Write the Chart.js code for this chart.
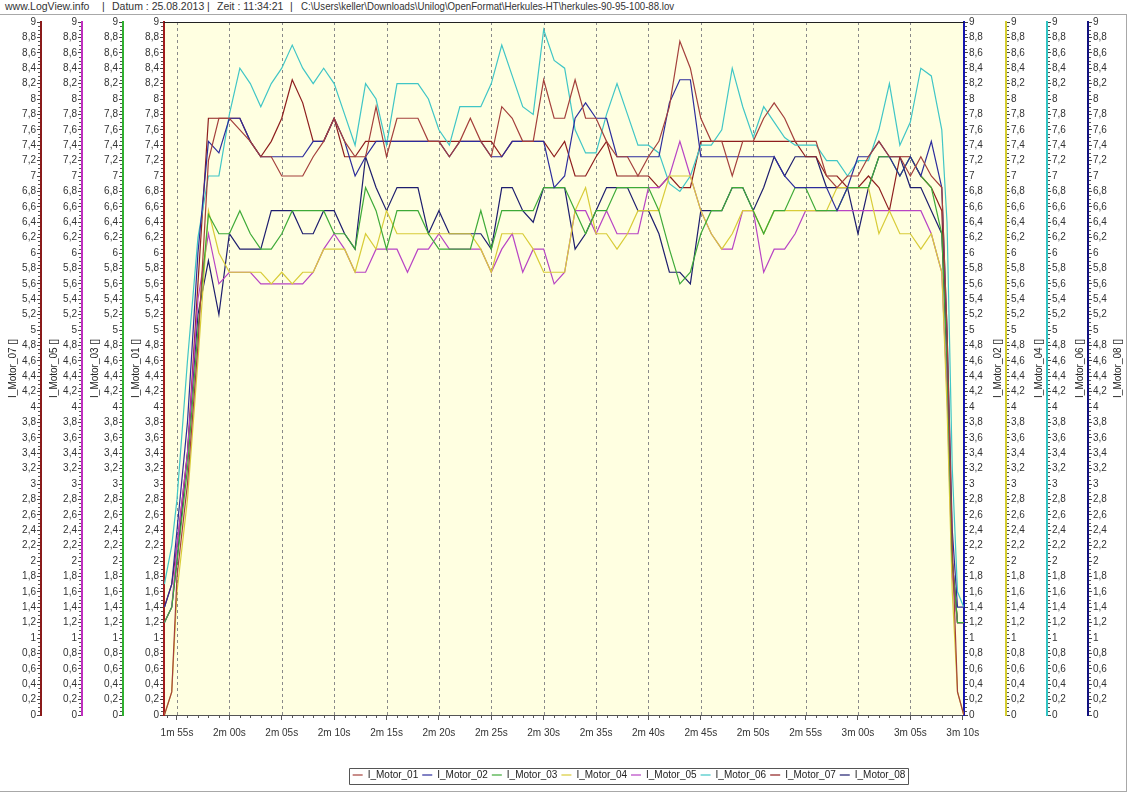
<!DOCTYPE html>
<html>
<head>
<meta charset="utf-8">
<script src="https://cdn.jsdelivr.net/npm/chart.js@4.4.1/dist/chart.umd.min.js"></script>
<style>
    html, body { margin: 0; padding: 0; background: #fff; }
    .head {
        position: absolute; top: 0; height: 14px;
        font: 10.5px "Liberation Sans", Arial, sans-serif; line-height: 13px;
        color: #333; white-space: pre;
    }
    #path { transform: scaleX(0.92); transform-origin: left center; }
    #frame {
        position: absolute; left: 0; top: 14px; width: 1126px; height: 776px;
        border: 1px solid #a8a8a8; border-left: 0;
    }
    #chart { position: absolute; left: 0; top: 0; }
</style>
</head>
<body>
<span class="head" style="left:5px">www.LogView.info</span>
<span class="head" style="left:102px">|</span>
<span class="head" style="left:112px">Datum : 25.08.2013</span>
<span class="head" style="left:207px">|</span>
<span class="head" style="left:217px">Zeit : 11:34:21</span>
<span class="head" style="left:290px">|</span>
<span class="head" id="path" style="left:301px">C:\Users\keller\Downloads\Unilog\OpenFormat\Herkules-HT\herkules-90-95-100-88.lov</span>
<div id="frame"><canvas id="chart" width="1126" height="776"></canvas></div>
<script>
// time in seconds since start of log
const times = [113.8, 114.5,
    115, 116, 117, 118, 119, 120, 121, 122, 123, 124,
    125, 126, 127, 128, 129, 130, 131, 132, 133, 134,
    135, 136, 137, 138, 139, 140, 141, 142, 143, 144,
    145, 146, 147, 148, 149, 150, 151, 152, 153, 154,
    155, 156, 157, 158, 159, 160, 161, 162, 163, 164,
    165, 166, 167, 168, 169, 170, 171, 172, 173, 174,
    175, 176, 177, 178, 179, 180, 181, 182, 183, 184,
    185, 186, 187, 188, 188.5, 189, 189.5, 190.1];

const motor01 = [0, 0.3,
    1.8, 3.0, 4.8, 7.2, 7.75, 7.75, 7.6, 7.45, 7.25, 7.25,
    7.0, 7.0, 7.0, 7.25, 7.45, 7.75, 7.45, 7.25, 7.25, 7.9,
    7.25, 7.75, 7.75, 7.75, 7.45, 7.45, 7.25, 7.45, 7.75, 7.45,
    7.25, 7.9, 7.75, 7.45, 7.45, 8.25, 7.75, 7.75, 8.25, 7.75,
    7.75, 7.45, 7.25, 7.25, 7.0, 7.25, 7.45, 7.9, 8.75, 8.4,
    7.75, 7.45, 7.45, 7.0, 7.45, 7.45, 7.75, 7.95, 7.75, 7.45,
    7.45, 7.45, 7.0, 6.85, 7.0, 7.0, 7.25, 7.45, 7.25, 7.25,
    7.0, 7.25, 7.0, 6.85, 5.0, 2.2, 0.3, 0];
const motor02 = [1.4, 1.7,
    2.4, 3.8, 6.0, 7.45, 7.3, 7.75, 7.75, 7.45, 7.25, 7.25,
    7.25, 7.25, 7.25, 7.45, 7.45, 7.75, 7.45, 7.0, 7.25, 7.45,
    7.45, 7.45, 7.45, 7.45, 7.45, 7.45, 7.25, 7.45, 7.45, 7.45,
    7.25, 7.25, 7.45, 7.45, 7.45, 7.45, 6.85, 7.0, 7.75, 7.95,
    7.75, 7.75, 7.25, 7.25, 7.25, 7.25, 7.25, 7.95, 8.25, 8.25,
    7.25, 7.25, 7.25, 7.25, 7.25, 7.25, 7.25, 7.25, 7.0, 6.85,
    6.85, 6.85, 6.85, 6.55, 6.85, 7.25, 7.25, 7.45, 7.25, 7.0,
    7.25, 7.0, 7.45, 6.85, 5.0, 2.4, 1.4, 1.4];
const motor03 = [1.2, 1.4,
    2.0, 3.2, 5.0, 6.5, 6.25, 6.25, 6.55, 6.25, 6.05, 6.05,
    6.25, 6.55, 6.55, 6.55, 6.55, 6.25, 6.25, 6.05, 6.85, 6.55,
    6.05, 6.55, 6.55, 6.55, 6.25, 6.05, 6.05, 6.05, 6.05, 6.55,
    6.05, 6.55, 6.55, 6.55, 6.55, 6.85, 6.85, 6.85, 6.55, 6.25,
    6.55, 6.55, 6.85, 6.85, 6.85, 6.85, 6.55, 6.05, 5.6, 5.75,
    6.25, 6.55, 6.55, 6.85, 6.85, 6.55, 6.25, 6.55, 6.55, 6.85,
    6.85, 6.55, 6.55, 6.55, 6.85, 6.85, 6.85, 7.25, 7.25, 7.0,
    7.25, 7.0, 6.85, 6.25, 4.6, 2.0, 1.2, 1.2];
const motor04 = [0, 0.3,
    1.6, 2.8, 4.6, 6.55, 6.0, 5.75, 5.75, 5.75, 5.75, 5.6,
    5.75, 5.6, 5.75, 5.75, 6.05, 6.05, 6.05, 5.75, 6.25, 6.05,
    6.55, 6.25, 6.25, 6.25, 6.25, 6.25, 6.25, 6.25, 6.25, 6.05,
    5.75, 6.25, 6.25, 6.25, 6.05, 5.75, 5.75, 5.75, 6.55, 6.85,
    6.25, 6.25, 6.05, 6.25, 6.55, 6.55, 6.55, 7.0, 7.0, 7.0,
    6.55, 6.25, 6.05, 6.25, 6.55, 6.55, 6.25, 6.55, 6.55, 6.55,
    6.55, 6.55, 6.55, 6.85, 6.85, 6.85, 6.85, 6.25, 6.55, 6.25,
    6.25, 6.05, 6.25, 5.75, 4.0, 1.6, 0.3, 0];
const motor05 = [1.2, 1.4,
    2.2, 3.4, 5.4, 6.25, 5.6, 5.75, 5.75, 5.75, 5.6, 5.6,
    5.6, 5.6, 5.6, 5.75, 6.05, 6.25, 6.05, 5.75, 5.75, 6.05,
    6.05, 6.05, 5.75, 6.05, 6.05, 6.25, 6.05, 6.05, 6.05, 6.05,
    5.75, 6.05, 6.25, 5.75, 6.05, 6.05, 5.6, 5.75, 6.55, 6.55,
    6.25, 6.55, 6.25, 6.25, 6.25, 6.85, 6.85, 7.0, 7.45, 7.0,
    6.55, 6.25, 6.05, 6.05, 6.55, 6.55, 5.75, 6.05, 6.05, 6.25,
    6.55, 6.55, 6.55, 6.55, 6.55, 6.55, 6.55, 6.55, 6.55, 6.55,
    6.55, 6.55, 6.25, 5.75, 4.2, 1.8, 1.2, 1.2];
const motor06 = [1.7, 2.2,
    2.8, 4.6, 6.2, 7.0, 7.0, 7.8, 8.4, 8.2, 7.9, 8.2,
    8.4, 8.7, 8.4, 8.2, 8.4, 8.2, 7.8, 7.4, 8.2, 8.0,
    7.4, 8.2, 8.2, 8.2, 8.0, 7.6, 7.4, 7.9, 7.9, 7.9,
    8.2, 8.7, 8.3, 7.9, 7.8, 8.9, 8.5, 8.4, 7.6, 7.3,
    7.3, 7.8, 8.2, 7.8, 7.4, 7.4, 7.3, 6.9, 6.8, 7.0,
    7.4, 7.4, 7.6, 8.4, 7.9, 7.5, 7.9, 7.7, 7.5, 7.4,
    7.4, 7.4, 7.2, 7.2, 7.0, 7.2, 7.2, 7.6, 8.2, 7.4,
    7.7, 8.4, 8.3, 7.6, 6.4, 3.2, 1.6, 1.4];
const motor07 = [1.4, 1.7,
    2.2, 3.4, 5.6, 7.75, 7.75, 7.75, 7.75, 7.45, 7.25, 7.45,
    7.75, 8.25, 7.95, 7.45, 7.45, 7.75, 7.25, 7.25, 7.45, 7.45,
    7.45, 7.45, 7.45, 7.45, 7.45, 7.45, 7.45, 7.45, 7.45, 7.45,
    7.45, 7.25, 7.45, 7.45, 7.45, 7.45, 7.25, 7.45, 7.0, 7.0,
    7.25, 7.45, 7.0, 7.0, 7.0, 7.0, 6.85, 7.0, 6.85, 6.85,
    7.45, 7.45, 7.45, 7.45, 7.45, 7.45, 7.45, 7.45, 7.45, 7.45,
    7.25, 7.25, 7.0, 7.0, 6.85, 6.85, 7.0, 6.85, 6.55, 7.25,
    7.25, 7.0, 6.85, 6.55, 4.8, 2.0, 1.2, 1.2];
const motor08 = [1.2, 1.4,
    2.0, 3.4, 5.2, 5.9, 5.2, 6.25, 6.05, 6.05, 6.05, 6.55,
    6.55, 6.55, 6.25, 6.25, 6.55, 6.55, 6.25, 6.05, 7.25, 6.85,
    6.55, 6.85, 6.85, 6.85, 6.25, 6.55, 6.25, 6.25, 6.25, 6.25,
    6.05, 6.85, 6.85, 6.55, 6.4, 6.85, 6.85, 6.85, 6.05, 6.25,
    6.55, 6.85, 6.85, 6.85, 6.55, 6.55, 6.25, 5.75, 5.75, 5.6,
    6.55, 6.55, 6.55, 6.85, 6.85, 6.55, 6.85, 7.25, 7.0, 7.25,
    7.25, 7.25, 6.85, 6.85, 6.85, 6.25, 6.85, 7.25, 7.25, 7.25,
    6.85, 6.85, 6.55, 6.25, 4.6, 2.0, 1.2, 1.2];

const motorNames = ['I_Motor_01', 'I_Motor_02', 'I_Motor_03', 'I_Motor_04',
    'I_Motor_05', 'I_Motor_06', 'I_Motor_07', 'I_Motor_08'];
const motorValues = [motor01, motor02, motor03, motor04, motor05, motor06, motor07, motor08];
const lineColors = ['#a4403c', '#2c2c9c', '#3eaa38', '#d8cc38', '#b844c4', '#40c6c6', '#8e1e1e', '#1e1e6e'];
const axisColors = ['#a01c1c', '#1414b0', '#30b030', '#d4cc30', '#c030c0', '#30c4c4', '#8a1a1a', '#101080'];

const xTickValues = [115, 120, 125, 130, 135, 140, 145, 150, 155, 160, 165, 170, 175, 180, 185, 190];
const xTickLabels = ['1m 55s', '2m 00s', '2m 05s', '2m 10s', '2m 15s', '2m 20s', '2m 25s', '2m 30s',
    '2m 35s', '2m 40s', '2m 45s', '2m 50s', '2m 55s', '3m 00s', '3m 05s', '3m 10s'];
const yMin = 0, yMax = 9, yStep = 0.2;

const FONT = '"Liberation Sans", Arial, sans-serif';
Chart.defaults.font.family = FONT;
Chart.defaults.font.size = 10;

// left axes are listed outer -> inner, right axes inner -> outer
const leftAxes = [6, 4, 2, 0];
const rightAxes = [1, 3, 5, 7];
const rightWidths = [42, 41, 41, 38];

function axisId(i) {
    return 'm' + (i + 1);
}

function yLabel(v) {
    return String(Math.round(v * 10) / 10).replace('.', ',');
}

function makeYAxis(i, pos, weight, width) {
    return {
        type: 'linear',
        position: pos,
        weight: weight,
        min: yMin,
        max: yMax,
        afterFit: function (s) { s.width = width; },
        ticks: {
            stepSize: yStep,
            autoSkip: false,
            padding: 1,
            color: '#333',
            callback: yLabel
        },
        grid: { drawOnChartArea: false, tickLength: 4, tickColor: '#444' },
        border: { color: axisColors[i], width: 2 }
    };
}

const scales = {
    x: {
        type: 'linear',
        min: 113.76,
        max: 190.12,
        afterFit: function (s) { s.height = 51; },
        afterBuildTicks: function (s) {
            s.ticks = xTickValues.map(v => ({ value: v }));
        },
        ticks: {
            autoSkip: false,
            maxRotation: 0,
            padding: 7,
            color: '#333',
            callback: (v, idx) => xTickLabels[idx]
        },
        grid: { drawOnChartArea: false, tickLength: 5, tickColor: '#555' },
        border: { color: '#555', width: 1 }
    }
};
leftAxes.forEach((i, k) => { scales[axisId(i)] = makeYAxis(i, 'left', 3 - k, 41); });
rightAxes.forEach((i, k) => { scales[axisId(i)] = makeYAxis(i, 'right', k, rightWidths[k]); });

const datasets = motorNames.map((name, i) => ({
    label: name,
    data: times.map((t, k) => ({ x: t, y: motorValues[i][k] })),
    yAxisID: axisId(i),
    borderColor: lineColors[i],
    backgroundColor: lineColors[i],
    borderWidth: 1.2,
    pointRadius: 0,
    tension: 0,
    fill: false
}));

const LEGEND_SHIFT = 66;

// plot background, dashed verticals, minor ticks, axis titles, legend frame
const logviewDecor = {
    id: 'logviewDecor',
    afterLayout(chart) {
        const lg = chart.legend;
        lg.left += LEGEND_SHIFT;
        lg.right += LEGEND_SHIFT;
    },
    beforeDraw(chart) {
        const ctx = chart.ctx;
        const a = chart.chartArea;
        ctx.save();
        ctx.fillStyle = '#ffffe1';
        ctx.fillRect(a.left, a.top, a.width, a.height);
        const xs = chart.scales.x;
        ctx.strokeStyle = '#8a8a8a';
        ctx.lineWidth = 1;
        ctx.setLineDash([3, 3]);
        for (const v of xTickValues) {
            const px = Math.round(xs.getPixelForValue(v)) + 0.5;
            ctx.beginPath();
            ctx.moveTo(px, a.top);
            ctx.lineTo(px, a.bottom);
            ctx.stroke();
        }
        ctx.restore();
    },
    afterDraw(chart) {
        const ctx = chart.ctx;
        const a = chart.chartArea;
        ctx.save();
        // top frame line of the plot
        ctx.strokeStyle = '#222';
        ctx.lineWidth = 1;
        ctx.beginPath();
        ctx.moveTo(a.left, a.top + 0.5);
        ctx.lineTo(a.right, a.top + 0.5);
        ctx.stroke();

        // minor ticks on x
        const xs = chart.scales.x;
        ctx.strokeStyle = '#555';
        for (let t = 114; t <= 190; t++) {
            if (t % 5 === 0) continue;
            const px = Math.round(xs.getPixelForValue(t)) + 0.5;
            ctx.beginPath();
            ctx.moveTo(px, a.bottom);
            ctx.lineTo(px, a.bottom + 3);
            ctx.stroke();
        }

        // minor ticks and rotated titles on every y axis
        ctx.font = '10px ' + FONT;
        ctx.textAlign = 'center';
        ctx.textBaseline = 'middle';
        motorNames.forEach((name, i) => {
            const s = chart.scales[axisId(i)];
            const isLeft = s.position === 'left';
            const x0 = isLeft ? s.right - 1 : s.left + 1;
            const dir = isLeft ? -1 : 1;
            ctx.strokeStyle = '#555';
            for (let k = 1; k < 180; k++) {
                if (k % 4 === 0) continue;
                const py = Math.round(s.getPixelForValue(k * 0.05)) + 0.5;
                ctx.beginPath();
                ctx.moveTo(x0, py);
                ctx.lineTo(x0 + dir * 2, py);
                ctx.stroke();
            }
            const tx = isLeft ? s.left + 13 : s.right - 8;
            const ty = (a.top + a.bottom) / 2;
            ctx.save();
            ctx.translate(tx, ty);
            ctx.rotate(-Math.PI / 2);
            ctx.fillStyle = '#222';
            ctx.fillText(name + ' []', 0, 0);
            ctx.restore();
        });

        // frame around the legend
        const lg = chart.legend;
        const pad = lg.options.labels.padding;
        const lw = lg.lineWidths[0];
        const startX = (lg.left + pad + lg.right - lw) / 2;
        const cy = lg.top + pad + 6;
        ctx.strokeStyle = '#555';
        ctx.beginPath();
        ctx.rect(Math.round(startX - 4) + 0.5, Math.round(cy - 8) + 0.5,
            Math.round(lw - pad + 6), 16);
        ctx.stroke();
        ctx.restore();
    }
};

new Chart(document.getElementById('chart'), {
    type: 'line',
    data: { datasets: datasets },
    options: {
        responsive: false,
        animation: false,
        events: [],
        layout: { padding: { top: 5, bottom: 1, left: 0, right: 0 } },
        scales: scales,
        plugins: {
            legend: {
                position: 'bottom',
                labels: {
                    usePointStyle: true,
                    pointStyle: 'line',
                    pointStyleWidth: 10,
                    padding: 4,
                    color: '#222',
                    font: { size: 10 }
                }
            },
            tooltip: { enabled: false }
        }
    },
    plugins: [logviewDecor]
});
</script>
</body>
</html>
